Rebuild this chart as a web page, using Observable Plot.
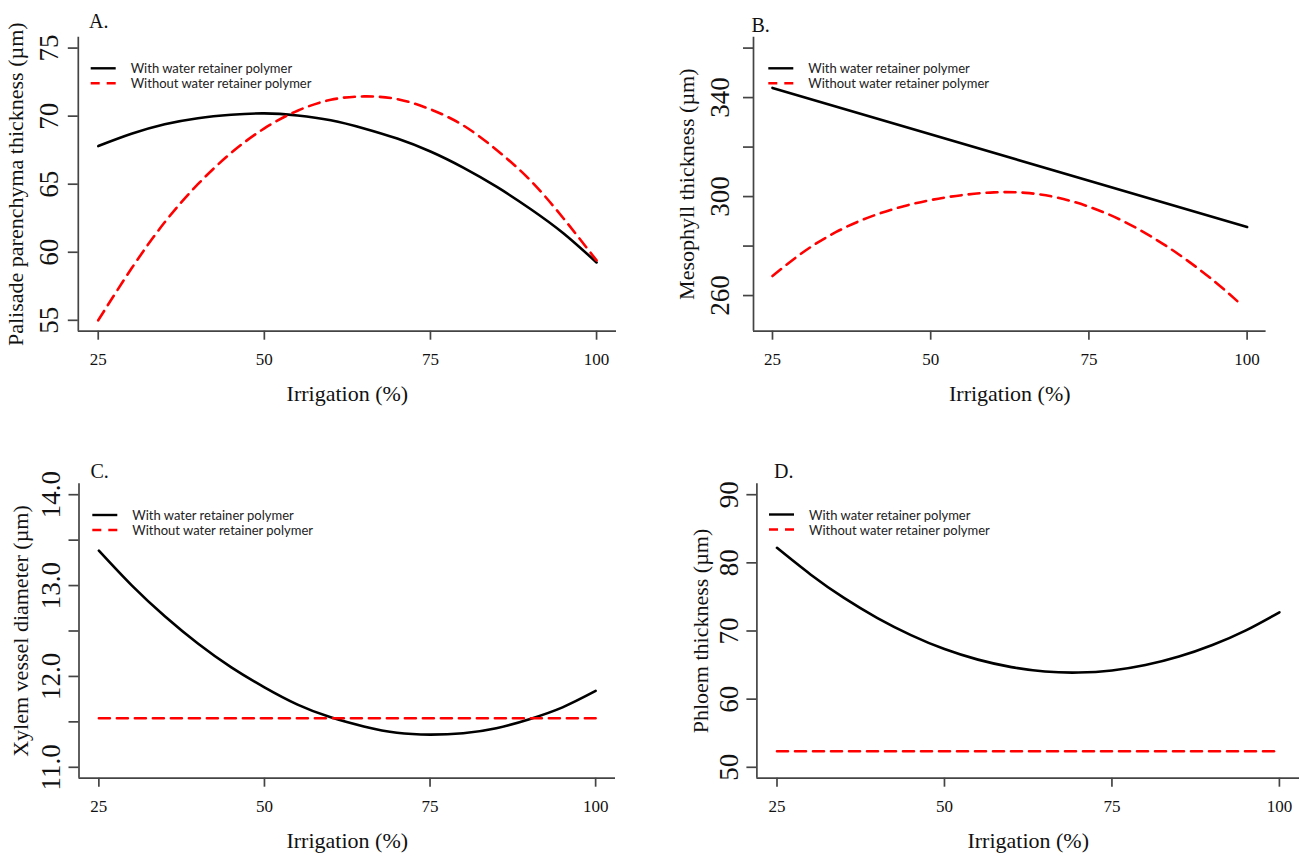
<!DOCTYPE html>
<html><head><meta charset="utf-8">
<script src="https://cdn.jsdelivr.net/npm/d3@7"></script>
<script src="https://cdn.jsdelivr.net/npm/@observablehq/plot@0.6"></script>
<style>
body{margin:0;background:#fff;}
#fig{position:relative;width:1307px;height:855px;overflow:hidden;background:#fff;}
#fig svg.panel{position:absolute;}
#fig svg.panel text{font-family:'Liberation Serif','Times New Roman',serif;}
#overlay{position:absolute;left:0;top:0;pointer-events:none;}
</style></head><body><div id="fig"></div>
<script>
// ---------- data ----------
const irrigation = [25,30,35,40,45,50,55,60,65,70,75,80,85,90,95,100];
const irrigationEnds = [25,100];
const irrigationB = [25,30,35,40,45,50,55,60,65,70,75,80,85,90,95,99];

const palisadeWith    = [67.8,68.7,69.4,69.85,70.1,70.2,70.05,69.7,69.1,68.35,67.4,66.2,64.8,63.2,61.4,59.25];
const palisadeWithout = [55.0,58.8,62.2,65.0,67.3,69.1,70.4,71.2,71.45,71.25,70.5,69.3,67.5,65.3,62.5,59.4];

const mesophyllWith    = [343.9,287.7];              // straight line, at irrigationEnds
const mesophyllWithout = [267.9,277.8,285.6,291.4,295.6,298.6,300.6,301.7,301.5,299.6,295.9,290.6,283.6,275.2,265.4,256.5];

const xylemWith    = [13.385,13.0,12.66,12.36,12.10,11.88,11.69,11.55,11.45,11.38,11.36,11.375,11.43,11.53,11.66,11.84];
const xylemWithout = [11.54,11.54];                  // at irrigationEnds

const phloemWith    = [82.2,78.3,74.85,71.9,69.4,67.35,65.8,64.7,64.05,63.9,64.2,65.0,66.25,67.95,70.1,72.75];
const phloemWithout = [52.35,52.35];                 // at irrigationEnds

const xTicks = [25,50,75,100];
const seriesNames = ["With water retainer polymer","Without water retainer polymer"];

// ---------- helpers ----------
const zip = (xs, ys) => xs.map((x, i) => ({x, y: ys[i]}));
const AX = "#444";
const SERIF = "'Liberation Serif', 'Times New Roman', serif";

function panel(cfg) {
  const marks = [
    Plot.ruleX([cfg.xDomain[0]], {stroke: AX, strokeWidth: 1.7}),
    Plot.ruleY([cfg.yDomain[0]], {stroke: AX, strokeWidth: 1.7}),
    Plot.axisX(xTicks, {tickSize: 9, tickPadding: 13, fontSize: 17, stroke: AX, fill: "#111", strokeWidth: 1.7, label: null}),
    Plot.axisY(cfg.yTicks, {tickSize: 10, tickFormat: () => "", stroke: AX, strokeWidth: 1.7, label: null}),
    Plot.text(cfg.yLabels, {y: d => d, frameAnchor: "left", text: cfg.fmt, rotate: -90, dx: -cfg.labOff,
      fontSize: 27, textAnchor: "middle", lineAnchor: "middle", fill: "#111"}),
    Plot.text(["Irrigation (%)"], {text: d => d, frameAnchor: "bottom", dy: 63, fontSize: 22, textAnchor: "middle", lineAnchor: "middle", fill: "#111"}),
    Plot.text([cfg.yTitle], {text: d => d, frameAnchor: "left", rotate: -90, dx: -cfg.titleOff, fontSize: 22, textAnchor: "middle", lineAnchor: "middle", fill: "#111"}),
    Plot.line(cfg.withData, {x: "x", y: "y", stroke: "#000", strokeWidth: 2.6, curve: "natural"}),
    Plot.line(cfg.withoutData, {x: "x", y: "y", stroke: "#ff0000", strokeWidth: 2.6, strokeDasharray: "11,7", curve: "natural"})
  ];
  const svg = Plot.plot({
    width: cfg.w, height: cfg.h,
    marginLeft: cfg.ml, marginRight: cfg.mr, marginTop: cfg.mt, marginBottom: cfg.mb,
    x: {domain: cfg.xDomain},
    y: {domain: cfg.yDomain},
    style: {background: "transparent", overflow: "visible", fontFamily: SERIF},
    marks
  });
  svg.classList.add("panel");
  svg.style.left = cfg.left + "px";
  svg.style.top = cfg.top + "px";
  return svg;
}

const fig = document.getElementById("fig");

fig.appendChild(panel({
  left: 0, top: 0, w: 650, h: 430, ml: 77.8, mr: 34, mt: 36.7, mb: 99.3,
  xDomain: [22,103], yDomain: [54.2,75.8],
  yTicks: [55,60,65,70,75], yLabels: [55,60,65,70,75], fmt: d => String(d), labOff: 29, titleOff: 62,
  yTitle: "Palisade parenchyma thickness (µm)",
  withData: zip(irrigation, palisadeWith), withoutData: zip(irrigation, palisadeWithout)
}));

fig.appendChild(panel({
  left: 650, top: 0, w: 657, h: 430, ml: 103, mr: 41.4, mt: 36.7, mb: 99.3,
  xDomain: [22,103], yDomain: [245.6,364.4],
  yTicks: [260,280,300,320,340,360], yLabels: [260,300,340], fmt: d => String(d), labOff: 33, titleOff: 67,
  yTitle: "Mesophyll thickness (µm)",
  withData: zip(irrigationEnds, mesophyllWith), withoutData: zip(irrigationB, mesophyllWithout)
}));

fig.appendChild(panel({
  left: 0, top: 430, w: 650, h: 425, ml: 78.5, mr: 35, mt: 53.3, mb: 77.3,
  xDomain: [22,103], yDomain: [10.88,14.12],
  yTicks: [11,11.5,12,12.5,13,13.5,14], yLabels: [11,12,13,14], fmt: d => d.toFixed(1), labOff: 28, titleOff: 58.5,
  yTitle: "Xylem vessel diameter (µm)",
  withData: zip(irrigation, xylemWith), withoutData: zip(irrigationEnds, xylemWithout)
}));

fig.appendChild(panel({
  left: 650, top: 430, w: 657, h: 425, ml: 106.4, mr: 8, mt: 53.3, mb: 77.3,
  xDomain: [22,103], yDomain: [48.4,91.6],
  yTicks: [50,60,70,80,90], yLabels: [50,60,70,80,90], fmt: d => String(d), labOff: 28, titleOff: 56,
  yTitle: "Phloem thickness (µm)",
  withData: zip(irrigation, phloemWith), withoutData: zip(irrigationEnds, phloemWithout)
}));

// ---------- panel tags and legends (overlay) ----------
const ns = "http://www.w3.org/2000/svg";
const ov = document.createElementNS(ns, "svg");
ov.setAttribute("id", "overlay");
ov.setAttribute("width", 1307); ov.setAttribute("height", 855);
fig.appendChild(ov);
function el(name, attrs, txt) {
  const e = document.createElementNS(ns, name);
  for (const k in attrs) e.setAttribute(k, attrs[k]);
  if (txt != null) e.textContent = txt;
  ov.appendChild(e);
  return e;
}
const tags = [["A.", 89, 28.3], ["B.", 751.5, 31.5], ["C.", 90.5, 478.3], ["D.", 774, 478]];
for (const [t, x, y] of tags) el("text", {x, y, "font-family": SERIF, "font-size": 20, fill: "#111"}, t);

const legends = [[90.7, 68.3], [768.3, 68.3], [92.3, 515], [769, 514.5]];
for (const [x, y] of legends) {
  el("line", {x1: x, x2: x + 25, y1: y, y2: y, stroke: "#000", "stroke-width": 2.4});
  el("line", {x1: x, x2: x + 25, y1: y + 15, y2: y + 15, stroke: "#ff0000", "stroke-width": 2.4, "stroke-dasharray": "9,7"});
  el("text", {x: x + 40, y: y, "dominant-baseline": "central", "font-family": "Lato, sans-serif", "font-size": 13, fill: "#222"}, seriesNames[0]);
  el("text", {x: x + 40, y: y + 15, "dominant-baseline": "central", "font-family": "Lato, sans-serif", "font-size": 13, fill: "#222"}, seriesNames[1]);
}
</script>
</body></html>
